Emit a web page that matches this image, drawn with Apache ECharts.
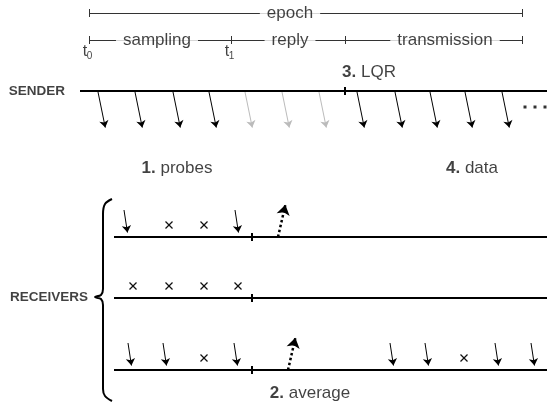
<!DOCTYPE html>
<html><head><meta charset="utf-8">
<script src="https://cdn.jsdelivr.net/npm/echarts@6/dist/echarts.min.js"></script>
<style>html,body{margin:0;padding:0;background:#fff}#c{width:547px;height:403px}</style>
</head><body><div id="c"></div>
<script>
// ---------- diagram data (in drawing units, 1 unit = 1 px of the reference) ----------
const epochSpan = [89, 522];
const phaseBounds = [89, 231, 345, 522];          // t0, t1, LQR, end of epoch
const phaseNames = ['sampling', 'reply', 'transmission'];
const phaseLabelX = [157, 290, 445];
const epochLabel = 'epoch';
const epochLabelX = 290;
const timelineY = [13, 40];
const tickNames = ['0', '1'];                      // t0, t1 subscripts
const senderLabel = 'SENDER';
const receiversLabel = 'RECEIVERS';
const senderY = 91;
const senderSpan = [80, 547];
const lqrX = 345;
const probeX = [98, 135, 173, 209];                // black probes
const idleX = [245, 282, 319];                     // grey (no probe)
const dataX = [357, 395, 430, 465, 502];           // data packets
const moreDotsX = [525, 535, 545];
const receiverY = [237, 298, 370];
const receiverSpan = [114, 547];
const averageX = 252;
const receivedX = [[128, 239], [], [132, 167, 238, 394, 429, 499, 535]];
const lostX = [[169, 204], [133, 169, 204, 238], [204, 464]];
const reportX = [278, null, 288];
const stepNums = ['1.', '2.', '3.', '4.'];
const stepNames = ['probes', 'average', 'LQR', 'data'];
const stepPos = [[177, 168], [310, 393], [369, 72], [472, 168]];
const braceX = [112, 105, 103, 103, 101, 95, 101, 103, 103, 105, 112];
const braceY = [199, 204, 214, 289, 295, 297, 299, 305, 389, 396, 401];

// ---------- build ----------
const FONT = 'Liberation Sans, Arial, Helvetica, sans-serif';
const seg = (x1, y1, x2, y2) => ({ coords: [[x1, y1], [x2, y2]] });
// arrow whose tip lands exactly at (x2,y2): the head symbol is centred on the end point
const arrow = (x1, y1, x2, y2, s) => {
  const dx = x2 - x1, dy = y2 - y1, L = Math.hypot(dx, dy), k = (s / 2) / L;
  return seg(x1, y1, x2 - dx * k, y2 - dy * k);
};
const HEAD = 7, BIGHEAD = 10;

const timelineSegs = [
  seg(epochSpan[0], timelineY[0], epochSpan[1], timelineY[0]),
  seg(epochSpan[0], timelineY[0] - 4, epochSpan[0], timelineY[0] + 4),
  seg(epochSpan[1], timelineY[0] - 4, epochSpan[1], timelineY[0] + 4),
  seg(phaseBounds[0], timelineY[1], phaseBounds[3], timelineY[1])
].concat(phaseBounds.map(x => seg(x, timelineY[1] - 4, x, timelineY[1] + 4)));

const mainLines = [
  seg(senderSpan[0], senderY, senderSpan[1], senderY),
  seg(lqrX, senderY - 4, lqrX, senderY + 4)
];
receiverY.forEach(y => {
  mainLines.push(seg(receiverSpan[0], y, receiverSpan[1], y));
  mainLines.push(seg(averageX, y - 4, averageX, y + 4));
});

const senderArrows = probeX.concat(dataX).map(x => arrow(x, senderY + 1, x + 8, senderY + 40, HEAD));
const senderGrey = idleX.map(x => arrow(x, senderY + 1, x + 8, senderY + 40, HEAD));
const recvArrows = [];
receivedX.forEach((xs, i) => xs.forEach(x => recvArrows.push(arrow(x - 4, receiverY[i] - 27, x, receiverY[i] - 1, HEAD))));
const crosses = [];
lostX.forEach((xs, i) => xs.forEach(x => {
  const cy = receiverY[i] - 12;
  crosses.push(seg(x - 3.5, cy - 3.5, x + 3.5, cy + 3.5));
  crosses.push(seg(x - 3.5, cy + 3.5, x + 3.5, cy - 3.5));
}));
const reports = [];
reportX.forEach((x, i) => { if (x != null) reports.push(arrow(x, receiverY[i], x + 8.5, receiverY[i] - 37, BIGHEAD)); });

const texts = [];
const baseLbl = { fontFamily: FONT, color: '#111' };
texts.push({ value: [epochLabelX, timelineY[0]], label: Object.assign({ formatter: epochLabel, fontSize: 17, backgroundColor: '#fff', padding: [0, 7] }, baseLbl) });
phaseNames.forEach((n, i) => texts.push({ value: [phaseLabelX[i], timelineY[1]], label: Object.assign({ formatter: n, fontSize: 17, backgroundColor: '#fff', padding: [0, 7] }, baseLbl) }));
[phaseBounds[0], phaseBounds[1]].forEach((x, i) => {
  texts.push({ value: [x - 4, timelineY[1] + 12], label: Object.assign({ formatter: 't', fontSize: 16 }, baseLbl) });
  texts.push({ value: [x + 0.5, timelineY[1] + 16], label: Object.assign({ formatter: tickNames[i], fontSize: 10 }, baseLbl) });
});
texts.push({ value: [65, senderY], label: Object.assign({ formatter: senderLabel, fontSize: 13.5, fontWeight: 'bold', align: 'right' }, baseLbl) });
texts.push({ value: [88, 297], label: Object.assign({ formatter: receiversLabel, fontSize: 13.5, fontWeight: 'bold', align: 'right' }, baseLbl) });
stepNames.forEach((n, i) => texts.push({
  value: stepPos[i],
  label: Object.assign({
    formatter: '{b|' + stepNums[i] + '} ' + n, fontSize: 17,
    rich: { b: { fontWeight: 'bold', fontSize: 17, fontFamily: FONT, color: '#111' } }
  }, baseLbl)
}));

const linesBase = { type: 'lines', coordinateSystem: 'cartesian2d', silent: true, animation: false };

const option = {
  animation: false,
  backgroundColor: '#fff',
  grid: { left: 0, right: 0, top: 0, bottom: 0 },
  xAxis: { type: 'value', min: 0, max: 547, show: false },
  yAxis: { type: 'value', min: 0, max: 403, inverse: true, show: false },
  series: [
    Object.assign({}, linesBase, { z: 2, lineStyle: { color: '#333', width: 1, opacity: 1 }, data: timelineSegs }),
    Object.assign({}, linesBase, { z: 3, lineStyle: { color: '#000', width: 2, opacity: 1 }, data: mainLines }),
    Object.assign({}, linesBase, { z: 3, symbol: ['none', 'arrow'], symbolSize: HEAD, lineStyle: { color: '#000', width: 1, opacity: 1 }, data: senderArrows.concat(recvArrows) }),
    Object.assign({}, linesBase, { z: 3, symbol: ['none', 'arrow'], symbolSize: HEAD, lineStyle: { color: '#bbb', width: 1, opacity: 1 }, data: senderGrey }),
    Object.assign({}, linesBase, { z: 3, lineStyle: { color: '#111', width: 1.2, opacity: 1 }, data: crosses }),
    Object.assign({}, linesBase, { z: 3, symbol: ['none', 'arrow'], symbolSize: BIGHEAD, lineStyle: { color: '#000', width: 2.5, type: 'dotted', opacity: 1 }, data: reports }),
    { type: 'line', silent: true, smooth: 0.35, symbol: 'none', z: 3, lineStyle: { color: '#000', width: 2 },
      data: braceX.map((x, i) => [x, braceY[i]]) },
    { type: 'scatter', silent: true, z: 4, symbol: 'rect', symbolSize: 3, itemStyle: { color: '#000' },
      data: moreDotsX.map(x => [x, 107]) },
    { type: 'scatter', silent: true, z: 10, symbolSize: 1, itemStyle: { color: 'rgba(0,0,0,0)' },
      label: { show: true, position: 'inside' }, data: texts }
  ]
};
const chart = echarts.init(document.getElementById('c'), null, { renderer: 'canvas' });
chart.setOption(option);
</script></body></html>
